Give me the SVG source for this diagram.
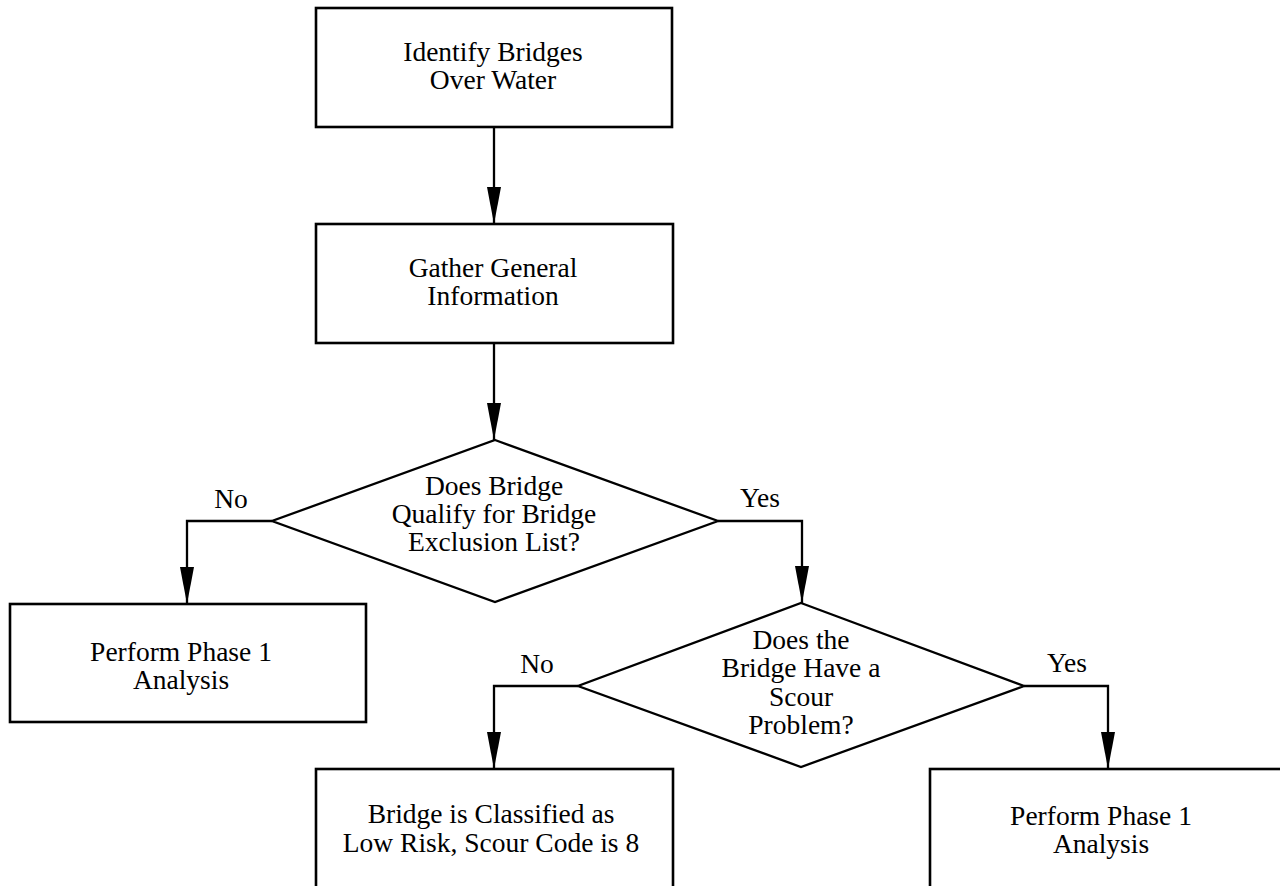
<svg xmlns="http://www.w3.org/2000/svg" width="1280" height="886" viewBox="0 0 1280 886">
  <style>
    .box { fill: #ffffff; stroke: #000000; stroke-width: 2.6; }
    .dia { fill: #ffffff; stroke: #000000; stroke-width: 2.3; stroke-linejoin: miter; }
    .conn { fill: none; stroke: #000000; stroke-width: 2.3; }
    text { font-family: "Liberation Serif", "Times New Roman", serif; font-size: 27.5px; fill: #000000; text-anchor: middle; }
  </style>
  <defs>
    <marker id="arrow" viewBox="0 0 37 14" refX="37" refY="7" markerWidth="37" markerHeight="14" markerUnits="userSpaceOnUse" orient="auto">
      <path d="M0,0 L37,7 L0,14 z" fill="#000000"/>
    </marker>
  </defs>
  <rect width="1280" height="886" fill="#ffffff"/>

  <g id="connectors">
    <line class="conn" x1="494" y1="127" x2="494" y2="224" marker-end="url(#arrow)"/>
    <line class="conn" x1="494" y1="343" x2="494" y2="440" marker-end="url(#arrow)"/>
    <polyline class="conn" points="272,521 187,521 187,604" marker-end="url(#arrow)"/>
    <polyline class="conn" points="718,521 802,521 802,603" marker-end="url(#arrow)"/>
    <polyline class="conn" points="578,686 494,686 494,769" marker-end="url(#arrow)"/>
    <polyline class="conn" points="1024,686 1108,686 1108,769" marker-end="url(#arrow)"/>
    <text x="231" y="508">No</text>
    <text x="760" y="507">Yes</text>
    <text x="537" y="673">No</text>
    <text x="1067" y="672">Yes</text>
  </g>

  <g id="identify">
    <rect class="box" x="316" y="8" width="356" height="119"/>
    <text><tspan x="493" y="61">Identify Bridges</tspan><tspan x="493" y="89">Over Water</tspan></text>
  </g>

  <g id="gather">
    <rect class="box" x="316" y="224" width="357" height="119"/>
    <text><tspan x="493" y="277">Gather General</tspan><tspan x="493" y="305">Information</tspan></text>
  </g>

  <g id="exclusion">
    <polygon class="dia" points="495,440 718,521 495,602 272,521"/>
    <text><tspan x="494" y="495">Does Bridge</tspan><tspan x="494" y="523">Qualify for Bridge</tspan><tspan x="494" y="551">Exclusion List?</tspan></text>
  </g>

  <g id="phase1-left">
    <rect class="box" x="10" y="604" width="356" height="118"/>
    <text><tspan x="181" y="661">Perform Phase 1</tspan><tspan x="181" y="689">Analysis</tspan></text>
  </g>

  <g id="scour">
    <polygon class="dia" points="801,603 1024,686 801,767 578,686"/>
    <text><tspan x="801" y="649">Does the</tspan><tspan x="801" y="677">Bridge Have a</tspan><tspan x="801" y="706">Scour</tspan><tspan x="801" y="734">Problem?</tspan></text>
  </g>

  <g id="lowrisk">
    <rect class="box" x="316" y="769" width="357" height="140"/>
    <text><tspan x="491" y="823">Bridge is Classified as</tspan><tspan x="491" y="852">Low Risk, Scour Code is 8</tspan></text>
  </g>

  <g id="phase1-right">
    <rect class="box" x="930" y="769" width="356" height="140"/>
    <text><tspan x="1101" y="825">Perform Phase 1</tspan><tspan x="1101" y="853">Analysis</tspan></text>
  </g>
</svg>
